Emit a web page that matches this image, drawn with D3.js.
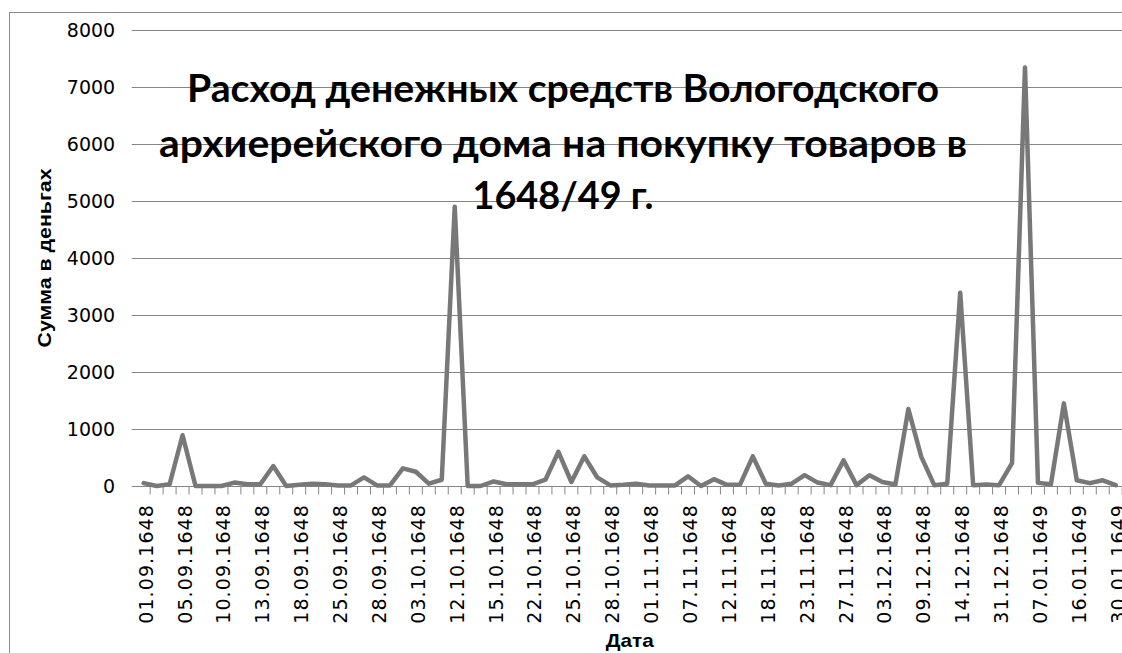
<!DOCTYPE html>
<html>
<head>
<meta charset="utf-8">
<title>Расход денежных средств Вологодского архиерейского дома</title>
<style>
  body { margin: 0; background: #fff; }
  svg { display: block; }
  .tick text { font-family: 'DejaVu Sans', sans-serif; fill: #000; }
</style>
</head>
<body>
<script src="https://d3js.org/d3.v7.min.js"></script>
<script>
// labels shown under every third category
var dateLabels = ["01.09.1648", "05.09.1648", "10.09.1648", "13.09.1648", "18.09.1648",
                  "25.09.1648", "28.09.1648", "03.10.1648", "12.10.1648", "15.10.1648",
                  "22.10.1648", "25.10.1648", "28.10.1648", "01.11.1648", "07.11.1648",
                  "12.11.1648", "18.11.1648", "23.11.1648", "27.11.1648", "03.12.1648",
                  "09.12.1648", "14.12.1648", "31.12.1648", "07.01.1649", "16.01.1649",
                  "30.01.1649"];
var labelStep = 3;

// sums in dengi, one per category
var values = [50, 0, 30, 890, 0, 0, 0, 60, 30, 30,
              350, 0, 20, 40, 30, 10, 10, 150, 10, 10,
              310, 250, 40, 110, 4900, 0, 0, 80, 30, 30,
              30, 110, 600, 70, 520, 150, 10, 20, 40, 10,
              10, 10, 170, 0, 120, 20, 20, 520, 40, 10,
              40, 190, 60, 15, 450, 15, 190, 70, 25, 1350,
              510, 15, 40, 3390, 15, 25, 15, 400, 7340, 55,
              30, 1450, 100, 50, 100, 15];

var yTicks = [0, 1000, 2000, 3000, 4000, 5000, 6000, 7000, 8000];

var titleLines = ["Расход денежных средств Вологодского",
                  "архиерейского дома на покупку товаров в",
                  "1648/49 г."];
var titleBaselines = [101.5, 157, 209];
var titleWidths = [752, 808, 181];

var W = 1122, H = 653;
var plot = {left: 137.2, right: 1122.2, top: 30, bottom: 486};

var svg = d3.select("body").append("svg")
    .attr("width", W)
    .attr("height", H);

// chart area border (cropped at the right and bottom)
svg.append("rect")
    .attr("x", 9.5).attr("y", 12.5)
    .attr("width", W).attr("height", H)
    .attr("fill", "none")
    .attr("stroke", "#8c8c8c");

var x = d3.scaleBand()
    .domain(d3.range(values.length))
    .range([plot.left, plot.right])
    .padding(0);

var y = d3.scaleLinear()
    .domain([0, 8000])
    .range([plot.bottom, plot.top]);

// y axis with gridlines
var yAxis = svg.append("g")
    .attr("transform", "translate(" + (plot.left - 5.5) + ",0)")
    .call(d3.axisLeft(y)
        .tickValues(yTicks)
        .tickSize(-(plot.right - plot.left + 5.5))
        .tickPadding(16.5)
        .tickFormat(d3.format("d")));
yAxis.select(".domain").remove();
yAxis.selectAll(".tick line").attr("stroke", "#868686");
yAxis.selectAll(".tick text").attr("font-size", 19);

// category boundary tick marks
svg.append("g")
    .selectAll("line")
    .data(d3.range(1, values.length + 1))
    .join("line")
    .attr("x1", function(i){ return i < values.length ? x(i) : x.range()[1]; })
    .attr("x2", function(i){ return i < values.length ? x(i) : x.range()[1]; })
    .attr("y1", y(0))
    .attr("y2", y(0) + 8.5)
    .attr("stroke", "#868686");

// rotated date labels
var xAxis = svg.append("g")
    .attr("transform", "translate(0," + plot.bottom + ")")
    .call(d3.axisBottom(x)
        .tickValues(d3.range(0, values.length, labelStep))
        .tickSize(0)
        .tickFormat(function(i){ return dateLabels[i / labelStep]; }));
xAxis.select(".domain").remove();
xAxis.selectAll(".tick text")
    .attr("transform", "rotate(-90)")
    .attr("text-anchor", "end")
    .attr("x", -18)
    .attr("y", 2.3)
    .attr("dy", "0.35em")
    .attr("font-size", 19)
    .attr("letter-spacing", "1.1px");

// title inside the plot
svg.append("g")
    .selectAll("text")
    .data(titleLines)
    .join("text")
    .attr("x", 563)
    .attr("y", function(d, i){ return titleBaselines[i]; })
    .attr("text-anchor", "middle")
    .attr("textLength", function(d, i){ return titleWidths[i]; })
    .attr("lengthAdjust", "spacingAndGlyphs")
    .attr("font-family", "Lato, 'Open Sans', sans-serif")
    .attr("font-weight", "bold")
    .attr("font-size", 38)
    .attr("fill", "#000")
    .text(function(d){ return d; });

// data line
var line = d3.line()
    .x(function(d, i){ return x(i) + x.bandwidth() / 2; })
    .y(function(d){ return y(d); });

svg.append("path")
    .datum(values)
    .attr("d", line)
    .attr("fill", "none")
    .attr("stroke", "#787878")
    .attr("stroke-width", 4.5)
    .attr("stroke-linejoin", "round")
    .attr("stroke-linecap", "round");

// axis titles
svg.append("text")
    .attr("transform", "translate(51," + ((plot.top + plot.bottom) / 2) + ") rotate(-90)")
    .attr("text-anchor", "middle")
    .attr("textLength", 179)
    .attr("lengthAdjust", "spacingAndGlyphs")
    .attr("font-family", "'Liberation Sans', Arial, sans-serif")
    .attr("font-weight", "bold")
    .attr("font-size", 18)
    .text("Сумма в деньгах");

svg.append("text")
    .attr("x", (plot.left + plot.right) / 2)
    .attr("y", 646.5)
    .attr("text-anchor", "middle")
    .attr("textLength", 48)
    .attr("lengthAdjust", "spacingAndGlyphs")
    .attr("font-family", "'Liberation Sans', Arial, sans-serif")
    .attr("font-weight", "bold")
    .attr("font-size", 19)
    .text("Дата");
</script>
</body>
</html>
